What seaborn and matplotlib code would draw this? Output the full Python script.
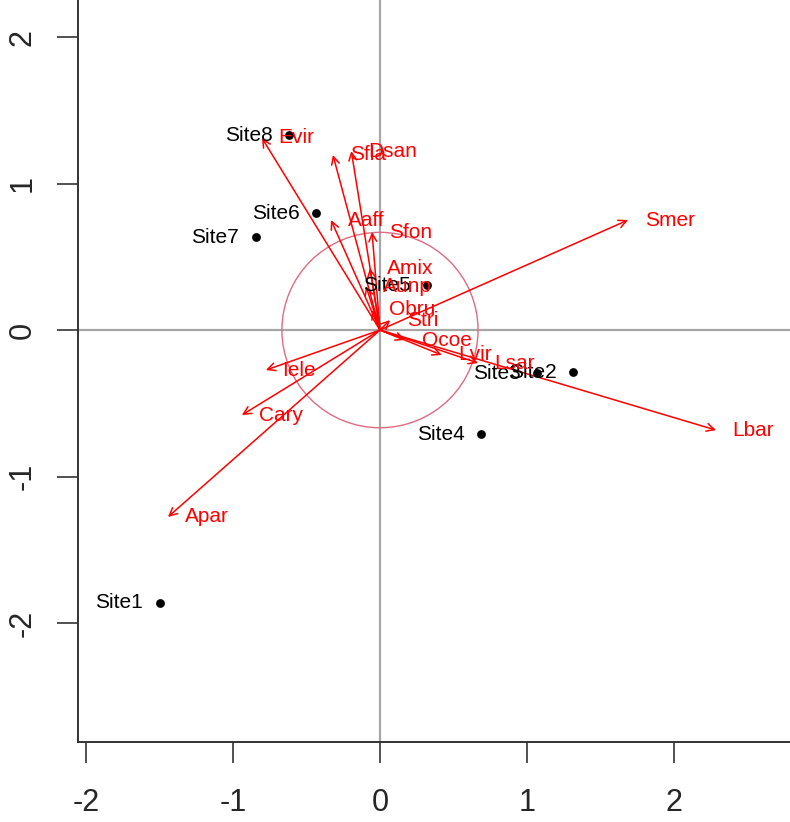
import numpy as np
import pandas as pd
import matplotlib
matplotlib.use("Agg")
import matplotlib.pyplot as plt
import seaborn as sns
from matplotlib.patches import Circle

# Site scores
site_names = ["Site1", "Site2", "Site3", "Site4", "Site5", "Site6", "Site7", "Site8"]
site_x = [-1.497, 1.313, 1.068, 0.687, 0.320, -0.435, -0.844, -0.619]
site_y = [-1.863, -0.287, -0.294, -0.710, 0.307, 0.799, 0.635, 1.331]

# Species arrows
species_names = ["Evir", "Sfla", "Dsan", "Aaff", "Sfon", "Amix", "Aunp", "Obru",
                 "Stri", "Ocoe", "Lvir", "Lsar", "Smer", "Lbar", "Iele", "Cary", "Apar"]
species_x = [-0.803, -0.320, -0.195, -0.333, -0.054, -0.068, -0.095, -0.054,
             0.068, 0.170, 0.420, 0.667, 1.687, 2.286, -0.776, -0.939, -1.442]
species_y = [1.311, 1.195, 1.222, 0.751, 0.669, 0.423, 0.300, 0.137,
             0.068, -0.068, -0.170, -0.225, 0.751, -0.683, -0.273, -0.580, -1.276]

circle_radius = 0.667
xticks = [-2, -1, 0, 1, 2]
yticks = [-2, -1, 0, 1, 2]

sns.set_style("white")
plt.rcParams["font.family"] = ["Liberation Sans", "DejaVu Sans"]

fig = plt.figure(figsize=(7.9, 8.22), dpi=100)
ax = fig.add_axes([78 / 790, 80 / 822, 1 - 78 / 790, 1 - 80 / 822])

ax.set_xlim(-2.054, 2.789)
ax.set_ylim(-2.812, 2.253)

ax.axhline(0, color="#a6a6a6", lw=1.6, zorder=1)
ax.axvline(0, color="#a6a6a6", lw=1.6, zorder=1)

ax.add_patch(Circle((0, 0), circle_radius, fill=False, ec="#e06b80", lw=1.0, zorder=2))

sites = pd.DataFrame({"name": site_names, "x": site_x, "y": site_y})
sns.scatterplot(data=sites, x="x", y="y", color="black", s=40, edgecolor="black",
                linewidth=0, ax=ax, zorder=4, legend=False)
for n, x, y in zip(site_names, site_x, site_y):
    ax.annotate(n, (x, y), xytext=(-12, 0), textcoords="offset points",
                ha="right", va="center", fontsize=15, color="black", zorder=5)

for n, x, y in zip(species_names, species_x, species_y):
    ax.annotate("", xy=(x, y), xytext=(0, 0),
                arrowprops=dict(arrowstyle="->", color="red", lw=1.1,
                                mutation_scale=14, shrinkA=0, shrinkB=0),
                zorder=3)
    ax.annotate(n, (x, y), xytext=(12, 0), textcoords="offset points",
                ha="left", va="center", fontsize=15, color="red", zorder=5)

ax.set_xticks(xticks)
ax.set_yticks(yticks)
ax.set_xticklabels([str(t) for t in xticks], fontsize=22)
ax.set_yticklabels([str(t) for t in yticks], fontsize=22, rotation=90, va="center")
ax.tick_params(axis="x", length=15, width=1.2, color="#333333", direction="out",
               pad=18, bottom=True)
ax.tick_params(axis="y", length=15, width=1.2, color="#333333", direction="out",
               pad=14, left=True)
ax.set_xlabel("")
ax.set_ylabel("")

sns.despine(ax=ax, top=True, right=True)
for s in ["left", "bottom"]:
    ax.spines[s].set_color("#333333")
    ax.spines[s].set_linewidth(1.4)

fig.savefig("out.png", dpi=100)
